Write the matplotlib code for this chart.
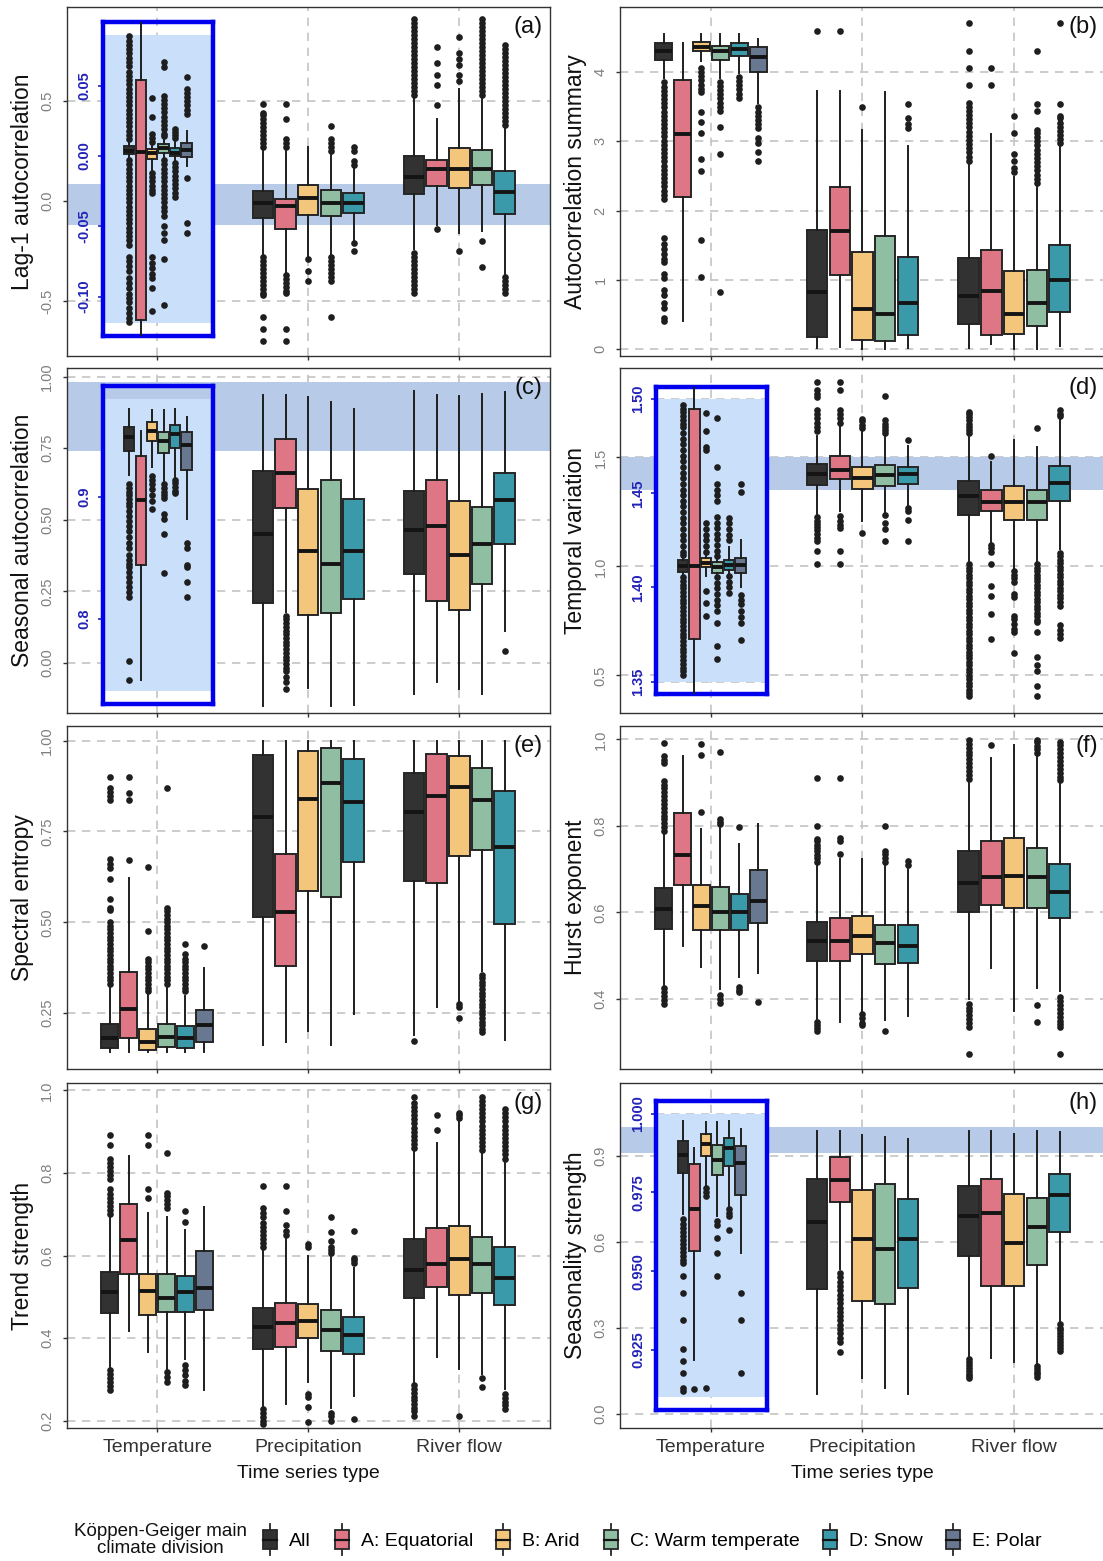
import numpy as np
import matplotlib.pyplot as plt
from matplotlib import font_manager
from matplotlib.patches import Patch, Rectangle
from matplotlib.lines import Line2D
from matplotlib.legend_handler import HandlerBase

groups = ['All', 'A: Equatorial', 'B: Arid', 'C: Warm temperate', 'D: Snow', 'E: Polar']
group_colors = ['#323232', '#df7686', '#f4c67c', '#8fbea2', '#3a9aa9', '#687890']
series_types = ['Temperature', 'Precipitation', 'River flow']

# box statistics per climate group: [lower whisker, q1, median, q3, upper whisker]
# temperature has six groups (All, A-E), precipitation and river flow have five (All, A-D)

# (a) lag-1 autocorrelation
lag1_temp = [[-0.002, 0.0012, 0.0036, 0.0072, 0.011], [-0.30, -0.117, 0.0029, 0.054, 0.20],
             [-0.010, -0.0019, 0.0019, 0.0048, 0.009], [-0.001, 0.0024, 0.006, 0.0084, 0.012],
             [-0.004, 0.0, 0.0024, 0.0055, 0.010], [-0.007, -0.0005, 0.0043, 0.0096, 0.018]]
lag1_temp_out = [
    [0.085, 0.082, 0.079, 0.076, 0.073, 0.07, 0.067, 0.064, 0.06, 0.057, 0.054, 0.051, 0.048, 0.045,
     0.042, 0.039, 0.036, 0.033, 0.03, 0.027, 0.024, 0.021, 0.018, 0.015, 0.012,
     -0.003, -0.006, -0.009, -0.012, -0.015, -0.018, -0.021, -0.024, -0.027, -0.03, -0.033, -0.036,
     -0.039, -0.042, -0.045, -0.048, -0.051, -0.054, -0.057, -0.06, -0.063, -0.072, -0.075, -0.078,
     -0.082, -0.087, -0.09, -0.094, -0.098, -0.101, -0.104, -0.108, -0.112, -0.115, -0.118],
    [],
    [0.041, 0.028, 0.016, 0.013, 0.010, -0.012, -0.015, -0.018, -0.021, -0.024, -0.026,
     -0.072, -0.076, -0.080, -0.084, -0.087, -0.094, -0.11],
    [0.067, 0.063, 0.043, 0.04, 0.037, 0.034, 0.031, 0.028, 0.025, 0.022, 0.019, 0.016, 0.014,
     -0.003, -0.006, -0.009, -0.012, -0.015, -0.018, -0.021, -0.024, -0.027, -0.03, -0.033, -0.036,
     -0.039, -0.043, -0.05, -0.055, -0.06, -0.073, -0.106],
    [0.019, 0.017, 0.015, 0.013, -0.005, -0.008, -0.011, -0.014, -0.017, -0.02, -0.023, -0.026, -0.029],
    [0.056, 0.048, 0.045, 0.042, 0.039, 0.036, 0.033, 0.03, -0.0157, -0.048, -0.055]]
lag1_prec = [[-0.27, -0.085, -0.0085, 0.051, 0.25], [-0.36, -0.141, -0.026, 0.0085, 0.25],
             [-0.28, -0.068, 0.017, 0.08, 0.27], [-0.27, -0.077, -0.009, 0.054, 0.23],
             [-0.20, -0.06, -0.009, 0.039, 0.17]]
lag1_prec_out = [
    [0.27, 0.29, 0.31, 0.33, 0.35, 0.37, 0.39, 0.41, 0.43, 0.44, 0.485,
     -0.28, -0.30, -0.32, -0.34, -0.36, -0.38, -0.40, -0.42, -0.44, -0.46, -0.47, -0.58, -0.64, -0.70],
    [0.27, 0.29, 0.31, 0.41, 0.485, -0.37, -0.39, -0.41, -0.43, -0.45, -0.46, -0.64, -0.70],
    [-0.29, -0.35, -0.40],
    [0.25, 0.27, 0.29, 0.31, 0.375, -0.28, -0.30, -0.32, -0.34, -0.36, -0.38, -0.40, -0.58],
    [0.18, 0.20, 0.25, 0.27, -0.21, -0.25]]
lag1_river = [[-0.24, 0.034, 0.119, 0.226, 0.51], [-0.12, 0.077, 0.16, 0.207, 0.41],
              [-0.16, 0.063, 0.16, 0.264, 0.56], [-0.15, 0.08, 0.16, 0.255, 0.51],
              [-0.37, -0.063, 0.043, 0.15, 0.36]]
lag1_river_out = [
    [0.53, 0.55, 0.57, 0.59, 0.61, 0.63, 0.65, 0.67, 0.69, 0.71, 0.73, 0.75, 0.77, 0.79, 0.81, 0.83,
     0.85, 0.87, 0.89, 0.91, -0.26, -0.28, -0.30, -0.32, -0.34, -0.36, -0.38, -0.40, -0.42, -0.44, -0.46],
    [0.77, 0.69, 0.63, 0.58, 0.48, -0.14],
    [0.82, 0.74, 0.71, 0.68, 0.63, 0.60, -0.25],
    [0.53, 0.55, 0.57, 0.59, 0.61, 0.63, 0.65, 0.67, 0.69, 0.71, 0.73, 0.75, 0.77, 0.79, 0.81, 0.83,
     0.85, 0.87, 0.89, 0.91, -0.20, -0.33],
    [0.38, 0.40, 0.42, 0.44, 0.46, 0.48, 0.50, 0.52, 0.54, 0.56, 0.58, 0.60, 0.62, 0.64, 0.66, 0.68,
     0.70, 0.72, 0.74, 0.76, 0.78, -0.38, -0.40, -0.42, -0.44, -0.46]]

# (b) autocorrelation summary
acs_temp = [[3.91, 4.18, 4.31, 4.42, 4.55], [0.41, 2.19, 3.10, 3.89, 4.42], [4.16, 4.31, 4.36, 4.43, 4.55],
            [3.91, 4.17, 4.31, 4.38, 4.55], [3.99, 4.23, 4.33, 4.42, 4.55], [3.56, 4.0, 4.22, 4.36, 4.48]]
acs_temp_out = [
    [3.85, 3.79, 3.73, 3.67, 3.61, 3.55, 3.49, 3.43, 3.37, 3.31, 3.25, 3.19, 3.13, 3.07, 3.01, 2.95,
     2.89, 2.83, 2.77, 2.71, 2.65, 2.59, 2.53, 2.47, 2.41, 2.35, 2.29, 2.23, 2.17, 1.60, 1.52, 1.45,
     1.38, 1.30, 1.26, 1.08, 1.03, 0.85, 0.78, 0.66, 0.60, 0.45, 0.40],
    [],
    [4.06, 4.0, 3.94, 3.88, 3.82, 3.76, 3.71, 3.42, 3.28, 3.12, 2.75, 2.57, 1.58, 1.04],
    [3.86, 3.80, 3.74, 3.68, 3.62, 3.56, 3.50, 3.44, 3.21, 2.82, 0.83],
    [3.93, 3.87, 3.81, 3.75, 3.69, 3.63],
    [3.49, 3.43, 3.37, 3.31, 3.25, 3.19, 3.05, 2.98, 2.85, 2.72]]
acs_prec = [[0.01, 0.17, 0.82, 1.72, 3.72], [0.03, 1.07, 1.70, 2.34, 3.72], [0.0, 0.13, 0.58, 1.40, 3.17],
            [0.0, 0.12, 0.51, 1.63, 3.71], [0.02, 0.21, 0.66, 1.33, 2.93]]
acs_prec_out = [[4.59], [4.59], [3.49], [], [3.54, 3.34, 3.25, 3.19]]
acs_river = [[0.01, 0.36, 0.77, 1.31, 2.67], [0.07, 0.21, 0.84, 1.43, 3.11], [0.0, 0.22, 0.50, 1.13, 2.48],
             [0.0, 0.34, 0.67, 1.14, 2.34], [0.04, 0.53, 1.0, 1.50, 2.92]]
acs_river_out = [
    [2.72, 2.78, 2.84, 2.90, 2.96, 3.02, 3.08, 3.14, 3.20, 3.26, 3.32, 3.38, 3.44, 3.50, 3.56,
     3.81, 4.06, 4.31, 4.71],
    [3.82, 4.06],
    [2.55, 2.62, 2.72, 2.82, 3.12, 3.37],
    [2.40, 2.46, 2.52, 2.58, 2.64, 2.70, 2.76, 2.82, 2.88, 2.94, 3.00, 3.06, 3.12, 3.17, 3.44, 3.54, 4.31],
    [2.97, 3.03, 3.09, 3.15, 3.21, 3.27, 3.33, 3.37, 3.54, 4.71]]

# (c) seasonal autocorrelation
sac_temp = [[0.918, 0.937, 0.949, 0.957, 0.972], [0.75, 0.844, 0.897, 0.933, 0.954],
            [0.924, 0.946, 0.954, 0.961, 0.971], [0.913, 0.936, 0.946, 0.953, 0.971],
            [0.915, 0.94, 0.951, 0.959, 0.972], [0.882, 0.922, 0.942, 0.953, 0.965]]
sac_temp_out = [
    [0.91, 0.907, 0.904, 0.901, 0.898, 0.895, 0.892, 0.888, 0.884, 0.880, 0.876, 0.872, 0.867, 0.862,
     0.858, 0.852, 0.848, 0.845, 0.842, 0.838, 0.834, 0.830, 0.826, 0.822, 0.818, 0.765, 0.75],
    [],
    [0.917, 0.914, 0.910, 0.906, 0.901, 0.896, 0.89],
    [0.91, 0.907, 0.904, 0.901, 0.899, 0.886, 0.882, 0.869, 0.837],
    [0.914, 0.911, 0.908, 0.905, 0.903],
    [0.862, 0.858, 0.844, 0.842, 0.83, 0.818]]
sac_prec = [[-0.152, 0.209, 0.451, 0.669, 0.934], [0.177, 0.541, 0.663, 0.783, 0.934],
            [-0.086, 0.168, 0.391, 0.609, 0.928], [-0.152, 0.173, 0.344, 0.64, 0.91],
            [-0.146, 0.224, 0.391, 0.574, 0.887]]
sac_prec_out = [[], [0.165, 0.152, 0.139, 0.126, 0.113, 0.10, 0.087, 0.074, 0.061, 0.048, 0.035, 0.022,
                     0.009, -0.004, -0.017, -0.03, -0.05, -0.068, -0.092], [], [], []]
sac_river = [[-0.107, 0.31, 0.465, 0.60, 0.95], [-0.068, 0.215, 0.477, 0.638, 0.934],
             [-0.092, 0.185, 0.376, 0.564, 0.932], [-0.107, 0.276, 0.415, 0.544, 0.94],
             [0.111, 0.415, 0.568, 0.663, 0.946]]
sac_river_out = [[], [], [], [], [0.043]]

# (d) temporal variation
tv_temp = [[1.407, 1.408, 1.4112, 1.4144, 1.416], [1.30, 1.3729, 1.4116, 1.495, 1.55],
           [1.406, 1.4107, 1.413, 1.4156, 1.417], [1.4065, 1.4077, 1.4108, 1.4135, 1.415],
           [1.407, 1.4094, 1.412, 1.4144, 1.4217], [1.40, 1.4077, 1.412, 1.4156, 1.4253]]
tv_temp_out = [
    [1.497, 1.495, 1.493, 1.491, 1.489, 1.487, 1.485, 1.482, 1.479, 1.476, 1.473, 1.470, 1.467, 1.464,
     1.461, 1.458, 1.455, 1.452, 1.449, 1.446, 1.443, 1.440, 1.437, 1.434, 1.431, 1.428, 1.425, 1.422,
     1.419, 1.4175, 1.4055, 1.4035, 1.4015, 1.3995, 1.3975, 1.3955, 1.3935, 1.3915, 1.3895, 1.3875,
     1.3855, 1.3835, 1.3815, 1.3795, 1.3775, 1.3755, 1.3735, 1.3715, 1.3695, 1.3675, 1.3655, 1.3635,
     1.3615, 1.3595, 1.3575, 1.3555, 1.3535],
    [],
    [1.4924, 1.4833, 1.4745, 1.473, 1.434, 1.431, 1.428, 1.425, 1.422, 1.419, 1.398, 1.392, 1.385],
    [1.490, 1.464, 1.455, 1.452, 1.449, 1.446, 1.4376, 1.4345, 1.4315, 1.4285, 1.4255, 1.4225, 1.4195,
     1.4165, 1.4055, 1.4025, 1.3995, 1.3965, 1.3935, 1.3905, 1.3875, 1.381, 1.369, 1.362],
    [1.4367, 1.434, 1.431, 1.428, 1.425, 1.406, 1.403, 1.400, 1.397],
    [1.4552, 1.4508, 1.396, 1.3935, 1.391, 1.3875, 1.3845, 1.381, 1.372]]
tv_prec = [[1.238, 1.375, 1.425, 1.47, 1.60], [1.253, 1.40, 1.443, 1.507, 1.64], [1.208, 1.355, 1.405, 1.455, 1.625],
           [1.246, 1.37, 1.42, 1.463, 1.595], [1.284, 1.379, 1.425, 1.455, 1.552]]
tv_prec_out = [
    [1.62, 1.64, 1.66, 1.68, 1.70, 1.716, 1.777, 1.79, 1.807, 1.845,
     1.225, 1.21, 1.195, 1.18, 1.165, 1.15, 1.132, 1.117, 1.071, 1.011],
    [1.66, 1.68, 1.70, 1.716, 1.807, 1.845, 1.23, 1.21, 1.19, 1.178, 1.071, 1.011],
    [1.633, 1.65, 1.665, 1.678, 1.155],
    [1.61, 1.625, 1.64, 1.655, 1.67, 1.78, 1.238, 1.2, 1.17, 1.117],
    [1.58, 1.269, 1.253, 1.215, 1.117]]
tv_river = [[1.026, 1.238, 1.322, 1.39, 1.595], [1.109, 1.253, 1.294, 1.352, 1.481],
            [0.988, 1.211, 1.294, 1.367, 1.58], [1.018, 1.215, 1.294, 1.352, 1.549],
            [1.079, 1.299, 1.382, 1.461, 1.68]]
tv_river_out = [
    [1.61, 1.625, 1.64, 1.655, 1.67, 1.685, 1.70, 1.709,
     1.01, 0.994, 0.978, 0.962, 0.946, 0.93, 0.914, 0.898, 0.882, 0.866, 0.85, 0.834, 0.818, 0.802,
     0.786, 0.77, 0.754, 0.738, 0.722, 0.706, 0.69, 0.674, 0.658, 0.642, 0.626, 0.61, 0.594, 0.578,
     0.562, 0.546, 0.53, 0.514, 0.498, 0.482, 0.466, 0.45, 0.434, 0.418, 0.404],
    [1.508, 1.10, 1.085, 1.064, 1.011, 0.912, 0.866, 0.783, 0.669],
    [0.98, 0.962, 0.945, 0.927, 0.875, 0.86, 0.775, 0.76, 0.735, 0.715, 0.70, 0.604],
    [1.633, 1.011, 0.995, 0.979, 0.963, 0.947, 0.931, 0.915, 0.899, 0.883, 0.867, 0.851, 0.835, 0.819,
     0.803, 0.787, 0.771, 0.755, 0.745, 0.70, 0.586, 0.55, 0.52, 0.45, 0.404],
    [1.69, 1.70, 1.716, 1.063, 1.047, 1.031, 1.015, 0.999, 0.983, 0.967, 0.951, 0.935, 0.919, 0.903,
     0.887, 0.871, 0.855, 0.839, 0.82, 0.73, 0.71, 0.69, 0.67]]

# (e) spectral entropy
se_temp = [[0.144, 0.153, 0.18, 0.221, 0.32], [0.144, 0.18, 0.26, 0.364, 0.621], [0.144, 0.149, 0.169, 0.207, 0.303],
           [0.144, 0.156, 0.183, 0.221, 0.32], [0.144, 0.153, 0.18, 0.214, 0.298], [0.144, 0.171, 0.216, 0.259, 0.373]]
se_temp_out = [
    [0.33, 0.34, 0.35, 0.36, 0.37, 0.38, 0.39, 0.40, 0.41, 0.42, 0.43, 0.44, 0.45, 0.46, 0.47, 0.48,
     0.49, 0.50, 0.533, 0.54, 0.565, 0.62, 0.65, 0.66, 0.674, 0.837, 0.847, 0.857, 0.869, 0.90],
    [0.671, 0.835, 0.855, 0.90],
    [0.31, 0.32, 0.33, 0.34, 0.35, 0.36, 0.37, 0.38, 0.39, 0.40, 0.476, 0.653],
    [0.33, 0.34, 0.35, 0.36, 0.37, 0.38, 0.39, 0.40, 0.41, 0.42, 0.43, 0.44, 0.45, 0.46, 0.47, 0.48,
     0.49, 0.50, 0.51, 0.52, 0.53, 0.54, 0.869],
    [0.31, 0.32, 0.33, 0.34, 0.35, 0.36, 0.37, 0.38, 0.39, 0.398, 0.413, 0.44],
    [0.434]]
se_prec = [[0.162, 0.514, 0.79, 0.959, 1.0], [0.171, 0.38, 0.529, 0.687, 1.0], [0.201, 0.586, 0.839, 0.971, 1.0],
           [0.162, 0.57, 0.882, 0.979, 1.0], [0.246, 0.665, 0.83, 0.948, 1.0]]
se_prec_out = [[], [], [], [], []]
se_river = [[0.189, 0.613, 0.803, 0.911, 1.0], [0.266, 0.609, 0.846, 0.964, 1.0], [0.28, 0.681, 0.873, 0.957, 1.0],
            [0.366, 0.698, 0.835, 0.925, 1.0], [0.176, 0.495, 0.706, 0.86, 1.0]]
se_river_out = [[0.173], [], [0.275, 0.266, 0.236],
                [0.356, 0.346, 0.336, 0.326, 0.316, 0.306, 0.296, 0.286, 0.276, 0.266, 0.256, 0.246, 0.236,
                 0.226, 0.216, 0.206, 0.198], []]

# (f) Hurst exponent
hurst_temp = [[0.433, 0.562, 0.608, 0.656, 0.779], [0.522, 0.663, 0.732, 0.829, 0.962],
              [0.474, 0.56, 0.616, 0.663, 0.794], [0.423, 0.56, 0.60, 0.658, 0.797],
              [0.45, 0.56, 0.602, 0.643, 0.759], [0.459, 0.575, 0.627, 0.697, 0.804]]
hurst_temp_out = [
    [0.788, 0.797, 0.806, 0.815, 0.824, 0.833, 0.842, 0.851, 0.86, 0.869, 0.878, 0.887, 0.895, 0.903,
     0.945, 0.953, 0.961, 0.991, 0.425, 0.416, 0.407, 0.398, 0.389],
    [],
    [0.833, 0.964, 0.989],
    [0.804, 0.81, 0.816, 0.972, 0.408, 0.399, 0.39],
    [0.797, 0.428, 0.421, 0.415],
    [0.392]]
hurst_prec = [[0.354, 0.488, 0.533, 0.579, 0.709], [0.347, 0.488, 0.535, 0.587, 0.724],
              [0.37, 0.503, 0.545, 0.591, 0.724], [0.352, 0.48, 0.53, 0.572, 0.713],
              [0.36, 0.482, 0.522, 0.572, 0.705]]
hurst_prec_out = [
    [0.717, 0.725, 0.733, 0.741, 0.749, 0.757, 0.765, 0.77, 0.80, 0.911, 0.347, 0.34, 0.333, 0.326],
    [0.736, 0.764, 0.771, 0.911],
    [0.366, 0.355, 0.345, 0.339],
    [0.717, 0.725, 0.735, 0.743, 0.80, 0.326],
    [0.709, 0.72]]
hurst_river = [[0.40, 0.601, 0.669, 0.741, 0.90], [0.472, 0.617, 0.682, 0.764, 0.957],
               [0.373, 0.61, 0.685, 0.771, 0.987], [0.425, 0.61, 0.681, 0.749, 0.961],
               [0.419, 0.587, 0.648, 0.713, 0.896]]
hurst_river_out = [
    [0.909, 0.918, 0.927, 0.936, 0.945, 0.954, 0.963, 0.972, 0.981, 0.99, 0.999,
     0.389, 0.38, 0.371, 0.362, 0.353, 0.344, 0.335, 0.273],
    [0.987],
    [],
    [0.969, 0.977, 0.985, 0.993, 0.999, 0.385, 0.347],
    [0.905, 0.914, 0.923, 0.932, 0.941, 0.95, 0.959, 0.968, 0.977, 0.986, 0.995,
     0.404, 0.395, 0.386, 0.377, 0.368, 0.359, 0.35, 0.341, 0.335, 0.273]]

# (g) trend strength
ts_temp = [[0.326, 0.461, 0.511, 0.56, 0.69], [0.417, 0.554, 0.638, 0.725, 0.84], [0.365, 0.457, 0.514, 0.555, 0.704],
           [0.32, 0.463, 0.498, 0.556, 0.694], [0.349, 0.463, 0.511, 0.55, 0.661], [0.274, 0.467, 0.521, 0.61, 0.717]]
ts_temp_out = [
    [0.70, 0.71, 0.72, 0.73, 0.74, 0.75, 0.76, 0.785, 0.795, 0.805, 0.815, 0.825, 0.835, 0.868, 0.893,
     0.322, 0.312, 0.302, 0.293, 0.283, 0.273],
    [],
    [0.74, 0.762, 0.868, 0.893],
    [0.715, 0.725, 0.735, 0.745, 0.752, 0.849, 0.318, 0.305, 0.293],
    [0.682, 0.708, 0.335, 0.322, 0.31, 0.297, 0.285],
    []]
ts_prec = [[0.231, 0.374, 0.426, 0.473, 0.612], [0.241, 0.379, 0.436, 0.486, 0.645], [0.293, 0.399, 0.442, 0.483, 0.60],
           [0.231, 0.369, 0.419, 0.469, 0.603], [0.26, 0.362, 0.407, 0.452, 0.57]]
ts_prec_out = [
    [0.62, 0.63, 0.64, 0.65, 0.66, 0.67, 0.678, 0.694, 0.704, 0.715, 0.769, 0.227, 0.218, 0.209, 0.2, 0.192],
    [0.65, 0.66, 0.674, 0.709, 0.769],
    [0.62, 0.628, 0.264, 0.256, 0.233, 0.196],
    [0.607, 0.614, 0.62, 0.636, 0.657, 0.694, 0.219, 0.21, 0.2],
    [0.583, 0.589, 0.595, 0.659, 0.204]]
ts_river = [[0.289, 0.496, 0.566, 0.64, 0.851], [0.355, 0.523, 0.58, 0.667, 0.872], [0.324, 0.504, 0.591, 0.672, 0.926],
            [0.314, 0.508, 0.58, 0.646, 0.847], [0.277, 0.481, 0.545, 0.62, 0.826]]
ts_river_out = [
    [0.86, 0.87, 0.88, 0.89, 0.90, 0.91, 0.92, 0.93, 0.94, 0.95, 0.96, 0.97, 0.983,
     0.285, 0.276, 0.267, 0.258, 0.249, 0.24, 0.231, 0.222, 0.211],
    [0.903, 0.94],
    [0.934, 0.94, 0.946, 0.212],
    [0.855, 0.865, 0.875, 0.885, 0.895, 0.905, 0.915, 0.925, 0.935, 0.945, 0.955, 0.965, 0.975, 0.983,
     0.303, 0.281],
    [0.835, 0.845, 0.855, 0.865, 0.875, 0.885, 0.895, 0.905, 0.915, 0.925, 0.935, 0.945, 0.955,
     0.264, 0.255, 0.246, 0.237, 0.227]]

# (h) seasonality strength
ss_temp = [[0.968, 0.9812, 0.987, 0.9912, 0.9978], [0.9218, 0.9564, 0.9696, 0.984, 0.9891],
           [0.977, 0.9865, 0.9904, 0.9937, 0.9974], [0.9675, 0.9805, 0.9854, 0.9902, 0.9973],
           [0.9701, 0.9833, 0.9891, 0.9923, 0.9978], [0.9558, 0.9743, 0.9842, 0.9896, 0.9952]]
ss_temp_out = [
    [0.9664, 0.9651, 0.9638, 0.9625, 0.9612, 0.9599, 0.9586, 0.9573, 0.956, 0.9547, 0.9535, 0.9527,
     0.9485, 0.9429, 0.9344, 0.9254, 0.9215, 0.9175, 0.9128, 0.912],
    [0.9125],
    [0.9764, 0.9751, 0.9738, 0.913],
    [0.9659, 0.9648, 0.9604, 0.9558, 0.9485],
    [0.9696, 0.9685, 0.9675, 0.9632],
    [0.9429, 0.9344, 0.9175]]
ss_prec = [[0.069, 0.433, 0.669, 0.819, 0.987], [0.505, 0.738, 0.816, 0.895, 0.987], [0.124, 0.392, 0.61, 0.781, 0.973],
           [0.09, 0.383, 0.574, 0.801, 0.965], [0.069, 0.438, 0.61, 0.747, 0.958]]
ss_prec_out = [[], [0.49, 0.475, 0.46, 0.445, 0.43, 0.415, 0.40, 0.385, 0.37, 0.355, 0.34, 0.325, 0.31,
                    0.295, 0.28, 0.265, 0.25, 0.214], [], [], []]
ss_river = [[0.2, 0.549, 0.688, 0.795, 0.987], [0.194, 0.444, 0.70, 0.819, 0.987], [0.179, 0.444, 0.595, 0.766, 0.976],
            [0.174, 0.52, 0.651, 0.752, 0.987], [0.322, 0.633, 0.762, 0.837, 0.983]]
ss_river_out = [[0.19, 0.18, 0.17, 0.16, 0.15, 0.14, 0.13, 0.124], [], [],
                [0.167, 0.157, 0.147, 0.137, 0.127],
                [0.312, 0.3, 0.29, 0.28, 0.27, 0.26, 0.25, 0.24, 0.23, 0.217]]

# fonts: a narrow face for horizontal text when one is installed
installed = {f.name for f in font_manager.fontManager.ttflist}
has_narrow = 'Liberation Sans Narrow' in installed
narrow = 'Liberation Sans Narrow' if has_narrow else 'Liberation Sans'
regular = ['Liberation Sans', 'DejaVu Sans']
plt.rcParams['font.family'] = [narrow, 'DejaVu Sans']
hsize = 16.5 if has_narrow else 14   # horizontal label size

W, H = 1103, 1561
fig = plt.figure(figsize=(W / 100, H / 100), dpi=100)

col_x = [(66.5, 550), (620, 1105)]
row_y = [(7, 356), (368, 713), (726, 1069), (1083, 1428)]

band_color = '#b7cbe9'
zoom_fill = '#cadffa'
zoom_edge = '#0000ee'
zoom_text = '#2323b8'
grid_kw = dict(color='#c4c4c4', lw=1.2, ls=(0, (5, 4)))

box_kw = dict(patch_artist=True, showcaps=False, manage_ticks=False,
              boxprops=dict(edgecolor='#262626', linewidth=1.4),
              whiskerprops=dict(color='#1e1e1e', linewidth=1.4),
              medianprops=dict(color='#141414', linewidth=2.8),
              flierprops=dict(marker='o', markerfacecolor='#1e1e1e', markeredgecolor='none', markersize=4.8))


def draw_boxes(ax, center, stats, fliers, z=3):
    n = len(stats)
    slot = 0.75 / n
    pos = center + (np.arange(n) - (n - 1) / 2) * slot
    bxs = [dict(whislo=s[0], q1=s[1], med=s[2], q3=s[3], whishi=s[4], fliers=np.array(f, dtype=float))
           for s, f in zip(stats, fliers)]
    art = ax.bxp(bxs, positions=pos, widths=slot * 0.9, zorder=z, **box_kw)
    for patch, c in zip(art['boxes'], group_colors):
        patch.set_facecolor(c)
    for fl in art['fliers']:
        fl.set_zorder(z - 0.5)


panels = [
    dict(letter='a', label='Lag-1 autocorrelation', ylim=(-0.774, 0.969), ticks=[-0.5, 0.0, 0.5], fmt='{:.1f}',
         data=[(lag1_temp, lag1_temp_out), (lag1_prec, lag1_prec_out), (lag1_river, lag1_river_out)],
         inset=dict(box=(-0.675, 0.893), zoom=(-0.119, 0.086), ticks=[-0.10, -0.05, 0.0, 0.05], fmt='{:.2f}')),
    dict(letter='b', label='Autocorrelation summary', ylim=(-0.1, 4.94), ticks=[0, 1, 2, 3, 4], fmt='{:.0f}',
         data=[(acs_temp, acs_temp_out), (acs_prec, acs_prec_out), (acs_river, acs_river_out)], inset=None),
    dict(letter='c', label='Seasonal autocorrelation', ylim=(-0.175, 1.03), ticks=[0, 0.25, 0.5, 0.75, 1.0], fmt='{:.2f}',
         data=[(sac_temp, sac_temp_out), (sac_prec, sac_prec_out), (sac_river, sac_river_out)],
         inset=dict(box=(-0.142, 0.967), zoom=(0.741, 0.98), ticks=[0.8, 0.9], fmt='{:.1f}')),
    dict(letter='d', label='Temporal variation', ylim=(0.328, 1.91), ticks=[0.5, 1.0, 1.5], fmt='{:.1f}',
         data=[(tv_temp, tv_temp_out), (tv_prec, tv_prec_out), (tv_river, tv_river_out)],
         inset=dict(box=(0.414, 1.825), zoom=(1.35, 1.50), ticks=[1.35, 1.40, 1.45, 1.50], fmt='{:.2f}')),
    dict(letter='e', label='Spectral entropy', ylim=(0.096, 1.04), ticks=[0.25, 0.5, 0.75, 1.0], fmt='{:.2f}',
         data=[(se_temp, se_temp_out), (se_prec, se_prec_out), (se_river, se_river_out)], inset=None),
    dict(letter='f', label='Hurst exponent', ylim=(0.238, 1.031), ticks=[0.4, 0.6, 0.8, 1.0], fmt='{:.1f}',
         data=[(hurst_temp, hurst_temp_out), (hurst_prec, hurst_prec_out), (hurst_river, hurst_river_out)], inset=None),
    dict(letter='g', label='Trend strength', ylim=(0.182, 1.018), ticks=[0.2, 0.4, 0.6, 0.8, 1.0], fmt='{:.1f}',
         data=[(ts_temp, ts_temp_out), (ts_prec, ts_prec_out), (ts_river, ts_river_out)], inset=None),
    dict(letter='h', label='Seasonality strength', ylim=(-0.05, 1.153), ticks=[0.0, 0.3, 0.6, 0.9], fmt='{:.1f}',
         data=[(ss_temp, ss_temp_out), (ss_prec, ss_prec_out), (ss_river, ss_river_out)],
         inset=dict(box=(0.014, 1.09), zoom=(0.91, 1.0), ticks=[0.925, 0.950, 0.975, 1.000], fmt='{:.3f}')),
]

for i, p in enumerate(panels):
    row, col = divmod(i, 2)
    x0, x1 = col_x[col]
    y0, y1 = row_y[row]
    ax = fig.add_axes([x0 / W, 1 - y1 / H, (x1 - x0) / W, (y1 - y0) / H])
    ax.set_xlim(0.4, 3.6)
    ax.set_ylim(*p['ylim'])
    ax.set_axisbelow(True)
    ax.grid(True, **grid_kw)
    ax.set_xticks([1, 2, 3])
    ax.set_yticks(p['ticks'])
    ax.set_yticklabels([p['fmt'].format(t) for t in p['ticks']], rotation=90, va='center',
                       color='#7f7f7f', fontsize=10.5, family=regular)
    if row == 3:
        ax.set_xticklabels(series_types, fontsize=hsize, color='#333333')
        fig.text((x0 + x1) / 2 / W, 1 - 1473 / H, 'Time series type', ha='center', va='center',
                 fontsize=hsize, color='#111111')
    else:
        ax.set_xticklabels([])
    ax.tick_params(length=3, width=1, color='#333333')
    ax.tick_params(axis='y', pad=6)
    ax.tick_params(axis='x', pad=5)
    for s in ax.spines.values():
        s.set_color('#333333')
        s.set_linewidth(1.0)
    ax.text(-0.092, 0.5, p['label'], transform=ax.transAxes, rotation=90, ha='center', va='center',
            fontsize=16.5, color='#111111', family=regular)
    ax.text(0.985, 0.975, '(' + p['letter'] + ')', transform=ax.transAxes, ha='right', va='top',
            fontsize=17, color='#111111')

    ins = p['inset']
    for k, (stats, fliers) in enumerate(p['data']):
        if k == 0 and ins is not None:
            continue
        draw_boxes(ax, k + 1, stats, fliers)

    if ins is not None:
        z0, z1 = ins['zoom']
        ax.axhspan(z0, z1, color=band_color, lw=0, zorder=0.8)
        b0, b1 = ins['box']
        iax = ax.inset_axes([0.64, b0, 0.73, b1 - b0], transform=ax.transData)
        m = 0.041
        span = (z1 - z0) / (1 - 2 * m)
        iax.set_ylim(z0 - m * span, z1 + m * span)
        iax.set_xlim(0.4, 1.6)
        iax.set_facecolor('none')
        iax.set_axisbelow(True)
        iax.grid(True, axis='y', **grid_kw)
        iax.axhspan(z0, z1, color=zoom_fill, lw=0, zorder=0.8)
        stats, fliers = p['data'][0]
        draw_boxes(iax, 1, stats, fliers)
        iax.set_xticks([])
        iax.set_yticks(ins['ticks'])
        iax.set_yticklabels([ins['fmt'].format(t) for t in ins['ticks']], rotation=90, va='center',
                            color=zoom_text, fontsize=10.5, fontweight='bold', family=regular)
        iax.tick_params(axis='y', length=3.6, width=1.2, color=zoom_text, pad=4.5)
        for s in iax.spines.values():
            s.set_color(zoom_edge)
            s.set_linewidth(3.2)


class BoxGlyph(HandlerBase):
    def create_artists(self, legend, orig_handle, xdescent, ydescent, width, height, fontsize, trans):
        cx = -xdescent + width / 2
        bw = width * 0.85
        yb = -ydescent
        whisk = Line2D([cx, cx], [yb - 0.3 * height, yb + 1.3 * height], color='#262626', lw=1.3,
                       transform=trans)
        box = Rectangle((cx - bw / 2, yb), bw, height, facecolor=orig_handle.get_facecolor(),
                        edgecolor='#262626', lw=1.3, transform=trans)
        med = Line2D([cx - bw / 2, cx + bw / 2], [yb + height / 2] * 2, color='#141414', lw=1.6,
                     transform=trans)
        return [whisk, box, med]


handles = [Patch(facecolor=c) for c in group_colors]
fig.legend(handles, groups, handler_map={Patch: BoxGlyph()}, ncol=6, frameon=False,
           loc='center left', bbox_to_anchor=(262 / W, 1 - 1540 / H), fontsize=hsize,
           handlelength=0.85, handleheight=1.15, handletextpad=0.55, columnspacing=1.15,
           borderpad=0, borderaxespad=0)
fig.text(160 / W, 1 - 1540 / H, 'Köppen-Geiger main\nclimate division', ha='center', va='center',
         fontsize=hsize - 0.5, linespacing=1.0, color='#111111')

fig.savefig('out.png', dpi=100, facecolor='white')
